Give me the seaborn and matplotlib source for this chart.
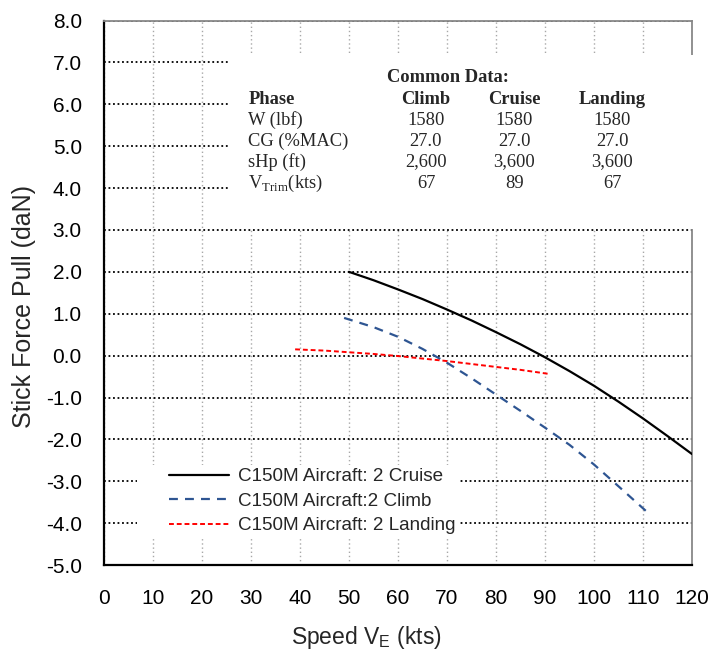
import matplotlib
matplotlib.use("Agg")
import matplotlib.pyplot as plt
from matplotlib.patches import Rectangle
import seaborn as sns
import pandas as pd

# ---- data ----
cruise_speed = [50, 55, 60, 65, 70, 75, 80, 85, 90, 95, 100, 105, 110, 115, 120]
cruise_force = [2.0, 1.8, 1.58, 1.35, 1.1, 0.84, 0.56, 0.27, -0.04, -0.37, -0.72, -1.1, -1.5, -1.92, -2.35]

climb_speed = [49, 55, 60, 65, 70, 75, 80, 85, 90, 95, 100, 105, 111]
climb_force = [0.9, 0.68, 0.45, 0.16, -0.17, -0.54, -0.93, -1.32, -1.72, -2.13, -2.6, -3.12, -3.75]

landing_speed = [39, 45, 50, 55, 60, 65, 70, 75, 80, 85, 91]
landing_force = [0.15, 0.12, 0.08, 0.04, -0.01, -0.07, -0.13, -0.2, -0.27, -0.34, -0.44]

series_labels = ["C150M Aircraft: 2 Cruise", "C150M Aircraft:2 Climb", "C150M Aircraft: 2 Landing"]

table_title = "Common Data:"
table_header = ["Phase", "Climb", "Cruise", "Landing"]
table_rows = ["W (lbf)", "CG (%MAC)", "sHp (ft)", r"V$_\mathregular{Trim}$(kts)"]
table_climb = ["1580", "27.0", "2,600", "67"]
table_cruise = ["1580", "27.0", "3,600", "89"]
table_landing = ["1580", "27.0", "3,600", "67"]

x_ticks = list(range(0, 121, 10))
y_ticks = list(range(-5, 9))

# ---- style ----
sns.set_style("white")
plt.rcParams["font.family"] = ["Liberation Sans", "DejaVu Sans"]
plt.rcParams["axes.unicode_minus"] = False

fig = plt.figure(figsize=(7.14, 6.51), dpi=100)
ax = fig.add_axes([0.1457, 0.132, 0.8235, 0.8365])

df_c = pd.DataFrame({"speed": cruise_speed, "force": cruise_force})
df_cl = pd.DataFrame({"speed": climb_speed, "force": climb_force})
df_l = pd.DataFrame({"speed": landing_speed, "force": landing_force})

sns.lineplot(data=df_c, x="speed", y="force", ax=ax, color="black", lw=1.6,
             label=series_labels[0], sort=False, estimator=None, zorder=5)
sns.lineplot(data=df_cl, x="speed", y="force", ax=ax, color="#2E5592", lw=1.6,
             linestyle=(0, (4, 3.2)), label=series_labels[1], sort=False,
             estimator=None, zorder=5)
sns.lineplot(data=df_l, x="speed", y="force", ax=ax, color="#FF0000", lw=1.4,
             linestyle=(0, (2.5, 1.5)), label=series_labels[2], sort=False,
             estimator=None, zorder=5)

ax.set_xlim(0, 120)
ax.set_ylim(-5, 8)
ax.set_xticks(x_ticks)
ax.set_yticks(y_ticks)
ax.set_xticklabels([str(v) for v in x_ticks])
ax.set_yticklabels(["%.1f" % v for v in y_ticks])
ax.tick_params(axis="both", labelsize=15, direction="out", width=1.5, colors="black")
ax.tick_params(axis="x", length=7, pad=10)
ax.tick_params(axis="y", length=5, pad=11)

ax.set_axisbelow(True)
ax.yaxis.grid(True, color="black", linestyle=(0, (1, 1.5)), lw=1.3)
ax.xaxis.grid(True, color="#a8a8a8", linestyle=(0, (1, 2)), lw=1.0)

for s in ["left", "bottom"]:
    ax.spines[s].set_color("black")
    ax.spines[s].set_linewidth(1.6)
for s in ["right", "top"]:
    ax.spines[s].set_color("#888888")
    ax.spines[s].set_linewidth(1.3)

ax.set_xlabel(r"Speed V$_\mathregular{E}$ (kts)", fontsize=16.5)
ax.set_ylabel("Stick Force Pull (daN)", fontsize=18)
ax.xaxis.set_label_coords(0.446, -0.108)
ax.yaxis.set_label_coords(-0.115, 0.474)

# white backgrounds for table and legend
ax.add_patch(Rectangle((25.3, 3.03), 95.7, 4.15, facecolor="white",
                       edgecolor="none", zorder=2.6, clip_on=False))
ax.add_patch(Rectangle((6.73, -4.35), 65.9, 1.74, facecolor="white",
                       edgecolor="none", zorder=2.6, clip_on=False))

# table
serif = ["Liberation Serif", "DejaVu Serif"]
tfs = 13.3
ax.text(70.2, 6.64, table_title, ha="center", va="center", fontsize=tfs,
        fontweight="bold", family=serif, zorder=6)
row_y = [6.12, 5.62, 5.11, 4.63, 4.11]
col_x = [65.7, 83.7, 103.7]
ax.text(29.45, row_y[0], table_header[0], ha="left", va="center", fontsize=tfs,
        fontweight="bold", family=serif, zorder=6)
for cx, h in zip(col_x, table_header[1:]):
    ax.text(cx, row_y[0], h, ha="center", va="center", fontsize=tfs,
            fontweight="bold", family=serif, zorder=6)
for i, name in enumerate(table_rows):
    y = row_y[i + 1]
    ax.text(29.45, y, name, ha="left", va="center", fontsize=tfs, family=serif, zorder=6)
    for cx, col in zip(col_x, [table_climb, table_cruise, table_landing]):
        ax.text(cx, y, col[i], ha="center", va="center", fontsize=tfs,
                family=serif, zorder=6)

leg = ax.legend(loc="upper left", bbox_to_anchor=(0.1105, 0.178), frameon=False,
                fontsize=13.6, borderpad=0, borderaxespad=0, handlelength=3.2,
                handletextpad=0.47, labelspacing=0.38)
leg.set_zorder(7)

fig.savefig("out.png", dpi=100)
